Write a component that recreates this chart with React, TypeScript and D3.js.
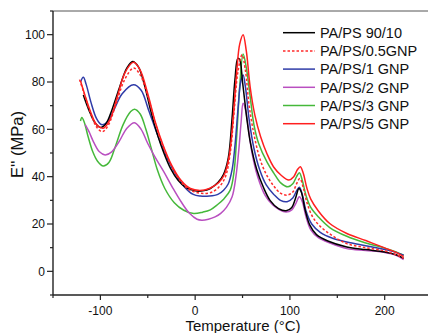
import React from "react";
import * as d3 from "d3";

type P = [number, number];

const seriesNames = ["PA/PS 90/10", "PA/PS/0.5GNP", "PA/PS/1 GNP", "PA/PS/2 GNP", "PA/PS/3 GNP", "PA/PS/5 GNP"];
const seriesColors = ["#000000", "#ff2a2a", "#2f3ba8", "#b94fc0", "#45b83a", "#ff1f1f"];
const seriesDash = [null, "2.5,2", null, null, null, null];

const pa9010: P[] = [
  [-118, 74.5], [-112, 68], [-106, 63], [-100, 60.8], [-94, 62.5], [-88, 68], [-80, 77.5], [-72, 86], [-66, 88.7],
  [-60, 86.5], [-53, 78], [-47, 68], [-40, 58], [-33, 50], [-26, 43.5], [-18, 38.5], [-10, 35.5], [0, 34], [8, 34],
  [16, 35], [24, 37.5], [30, 41], [35, 48], [39, 65], [42, 81], [45, 90], [47, 89.5], [50, 80], [54.7, 64], [58, 55],
  [65, 43], [72, 35.5], [79, 30], [88, 26.5], [96, 25.6], [102, 27], [106, 31], [109.5, 35], [112, 33.5], [116, 26],
  [121, 19.5], [128, 15.5], [140, 12.8], [160, 10.3], [180, 9.2], [200, 8.2], [212, 7], [220, 5.5],
];

const pa05: P[] = [
  [-122, 81], [-117, 75], [-111, 67.5], [-104, 61], [-98, 59], [-92, 61.5], [-84, 70], [-75, 80.5], [-65, 85.9],
  [-58, 83], [-50, 74], [-43, 64], [-36, 55], [-28, 47], [-18, 39.5], [-8, 35], [0, 33.5], [9, 32.9], [18, 33.5],
  [26, 36], [32, 40], [37, 50], [41, 67], [45, 84], [49.5, 91.5], [53, 85], [57, 70], [62, 58], [68, 48], [75, 41],
  [83, 36], [90, 33], [97, 32.2], [103, 33.5], [107, 37], [110.5, 39.2], [114, 35.5], [118, 29], [124, 23], [132, 19],
  [145, 15], [160, 11.7], [180, 10], [200, 8.6], [212, 7], [220, 5.5],
];

const pa1: P[] = [
  [-121, 80], [-118, 82], [-115, 79], [-110, 71.5], [-104, 64.5], [-99, 62], [-93, 63], [-86, 68], [-77, 75],
  [-65, 78.8], [-57, 76.5], [-49, 68], [-40, 58], [-32, 50], [-22, 42], [-12, 36], [-2, 32.5], [5.5, 31.8], [15, 31.8],
  [24, 32.5], [30, 34.3], [35, 37], [39, 43], [42, 53], [45.5, 70], [48, 80], [50.6, 83], [53, 78], [57, 64], [62, 52],
  [68, 43], [75, 36.5], [83, 32.5], [90, 30], [97, 29.4], [103, 31], [107, 34], [110, 35.5], [113, 32.5], [117, 25.5],
  [123, 20], [132, 16.5], [145, 14], [160, 12.4], [180, 10.8], [200, 9.2], [212, 8], [220, 6.8],
];

const pa2: P[] = [
  [-116, 62], [-112, 59], [-107, 54.5], [-101, 50.5], [-95, 49.2], [-88, 50.5], [-80, 55], [-72, 60.5], [-64, 62.8],
  [-57, 60], [-50, 54], [-42, 48], [-33, 42], [-24, 35.5], [-15, 29.5], [-6, 24.5], [2, 22], [7, 21.6], [14, 22],
  [21, 23], [27, 24.5], [33, 27], [39, 31.5], [43, 40], [46, 51], [48.5, 63], [50.6, 71], [53, 68.5], [56, 61], [60, 50],
  [66, 40], [74, 32], [82, 28], [89, 26], [96, 25.1], [102, 26], [106, 28.5], [110, 31.5], [113, 29.5], [117, 23],
  [122, 17.5], [130, 14.2], [142, 12], [160, 9.6], [180, 8.8], [200, 8], [212, 6.8], [220, 5],
];

const pa3: P[] = [
  [-121, 63.5], [-119.5, 65], [-117, 63], [-113, 57], [-108, 50.5], [-103, 46.5], [-97, 44.5], [-91, 46], [-84, 53],
  [-76, 62], [-68, 67.5], [-64, 68.5], [-58, 66.5], [-52, 60], [-46, 51.5], [-40, 43], [-32, 35], [-22, 29], [-12, 25.8],
  [-1.5, 24.4], [8, 25], [16, 26], [23, 28], [30, 30.5], [37, 34.3], [41, 42], [44, 58], [47, 78], [50.6, 91.8], [54, 86],
  [58, 74], [62, 62], [67, 54], [76, 46], [83, 41.5], [90, 37.5], [98, 35.7], [103, 37], [107, 40], [110, 41.7], [113, 38.5],
  [117, 32], [122, 27], [130, 23], [142, 18.5], [160, 14.8], [180, 12], [200, 9.8], [212, 8.2], [220, 6.8],
];

const pa5: P[] = [
  [-121, 80.5], [-116, 74], [-110, 67], [-104, 62], [-97, 60.5], [-90, 64], [-82, 74], [-74, 84], [-65, 88.3],
  [-58, 85], [-50, 75], [-42, 63], [-34, 53.5], [-25, 45], [-15, 38.5], [-5, 35], [5, 34.2], [15, 35], [25, 37.5],
  [31, 41], [36, 49], [40, 64], [44, 85], [47, 96], [50.6, 100], [54, 93], [58, 78], [63, 66], [69, 57], [76, 49.5],
  [83, 44], [91, 40.5], [98.7, 38.6], [104, 40], [108, 43], [111, 44.2], [114, 41.5], [118, 35], [122, 30.5], [130, 25.5],
  [142, 20.2], [160, 16], [180, 13], [200, 9.9], [212, 8], [220, 6.2],
];

const seriesData: P[][] = [pa9010, pa05, pa1, pa2, pa3, pa5];

const xMajor = [-100, 0, 100, 200];
const xMinor = [-150, -50, 50, 150];
const yMajor = [0, 20, 40, 60, 80, 100];
const yMinor = [-10, 10, 30, 50, 70, 90, 110];

const W = 428;
const H = 333;
const L = 53;
const T = 11;
const B = 295;

export default function App() {
  const x = d3.scaleLinear().domain([-150, 250]).range([L, L + 400 * 0.9477]);
  const y = d3.scaleLinear().domain([-10, 110]).range([B, T]);
  const line = d3
    .line<P>()
    .x((d) => x(d[0]))
    .y((d) => y(d[1]))
    .curve(d3.curveCatmullRom.alpha(0.5));
  const font = "'Liberation Sans', Arial, sans-serif";
  const axisColor = "#222";
  const drawOrder = [4, 3, 2, 0, 1, 5];

  return (
    <svg
      width={W}
      height={H}
      style={{ position: "absolute", left: 0, top: 0, background: "#fff" }}
      fontFamily={font}
    >
      <defs>
        <clipPath id="plot">
          <rect x={L} y={T} width={W - L} height={B - T} />
        </clipPath>
      </defs>
      <rect x={0} y={0} width={W} height={H} fill="#fff" />
      <line x1={L} x2={W} y1={T} y2={T} stroke="#555" strokeWidth={1} />
      <g clipPath="url(#plot)">
        {drawOrder.map((i) => (
          <path
            key={i}
            d={line(seriesData[i]) || ""}
            fill="none"
            stroke={seriesColors[i]}
            strokeWidth={1.5}
            strokeDasharray={seriesDash[i] || undefined}
          />
        ))}
      </g>
      <line x1={L} x2={L} y1={T} y2={B} stroke={axisColor} strokeWidth={1.4} />
      <line x1={L} x2={W} y1={B} y2={B} stroke={axisColor} strokeWidth={1.4} />
      {yMajor.map((v) => (
        <g key={"ym" + v}>
          <line x1={L - 6} x2={L} y1={y(v)} y2={y(v)} stroke={axisColor} strokeWidth={1.2} />
          <text x={L - 8} y={y(v)} dy="0.36em" textAnchor="end" fontSize={12} fill="#111">
            {v}
          </text>
        </g>
      ))}
      {yMinor.map((v) => (
        <line key={"yn" + v} x1={L - 3} x2={L} y1={y(v)} y2={y(v)} stroke={axisColor} strokeWidth={1.2} />
      ))}
      {xMajor.map((v) => (
        <g key={"xm" + v}>
          <line x1={x(v)} x2={x(v)} y1={B} y2={B + 5} stroke={axisColor} strokeWidth={1.2} />
          <text x={x(v)} y={314.5} textAnchor="middle" fontSize={12} fill="#111">
            {v}
          </text>
        </g>
      ))}
      {xMinor.map((v) => (
        <line key={"xn" + v} x1={x(v)} x2={x(v)} y1={B} y2={B + 3} stroke={axisColor} strokeWidth={1.2} />
      ))}
      <text x={243} y={331} textAnchor="middle" fontSize={15} fill="#111">
        Temperature (°C)
      </text>
      <text
        transform={`translate(23,${144.5}) rotate(-90)`}
        textAnchor="middle"
        fontSize={16.5}
        fill="#111"
      >
        E'' (MPa)
      </text>
      {seriesNames.map((name, i) => {
        const ly = 32.7 + i * 18.2;
        return (
          <g key={name}>
            <line
              x1={283}
              x2={315}
              y1={ly}
              y2={ly}
              stroke={seriesColors[i]}
              strokeWidth={1.5}
              strokeDasharray={seriesDash[i] || undefined}
            />
            <text x={320} y={ly} dy="0.36em" fontSize={14.5} fill="#111">
              {name}
            </text>
          </g>
        );
      })}
    </svg>
  );
}
